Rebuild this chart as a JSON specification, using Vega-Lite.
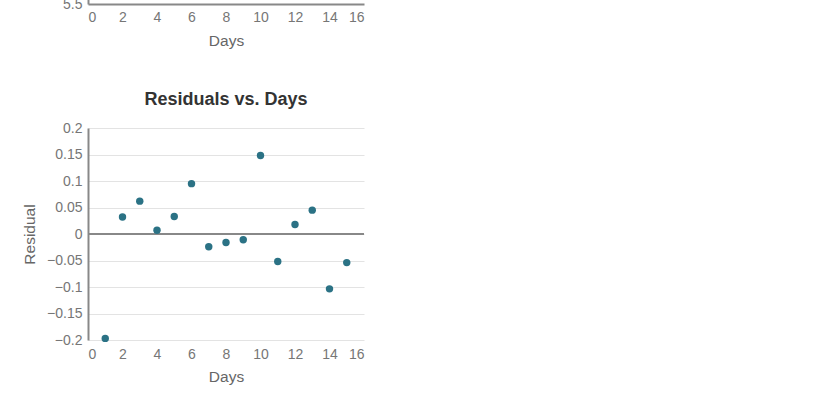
{
  "$schema": "https://vega.github.io/schema/vega-lite/v6.json",
  "padding": {"left": 22, "top": -146, "right": 5, "bottom": 5},
  "background": "white",
  "config": {
    "font": "Liberation Sans",
    "view": {"stroke": null},
    "axis": {
      "labelFont": "Liberation Sans",
      "titleFont": "Liberation Sans",
      "labelFontSize": 14,
      "labelColor": "#767676",
      "labelOverlap": false,
      "titleFontSize": 15.5,
      "titleFontWeight": "normal",
      "titleColor": "#666666",
      "ticks": false,
      "domainColor": "#888888",
      "domainWidth": 2,
      "gridColor": "#e3e3e3",
      "gridWidth": 1
    },
    "title": {"font": "Liberation Sans", "fontSize": 18, "fontWeight": "bold", "color": "#333333"}
  },
  "spacing": 42,
  "datasets": {
    "residuals": [
      {"Days": 1, "Residual": -0.197},
      {"Days": 2, "Residual": 0.032},
      {"Days": 3, "Residual": 0.062},
      {"Days": 4, "Residual": 0.007},
      {"Days": 5, "Residual": 0.033},
      {"Days": 6, "Residual": 0.095},
      {"Days": 7, "Residual": -0.024},
      {"Days": 8, "Residual": -0.016},
      {"Days": 9, "Residual": -0.011},
      {"Days": 10, "Residual": 0.148},
      {"Days": 11, "Residual": -0.052},
      {"Days": 12, "Residual": 0.018},
      {"Days": 13, "Residual": 0.045},
      {"Days": 14, "Residual": -0.1035},
      {"Days": 15, "Residual": -0.054}
    ]
  },
  "vconcat": [
    {
      "width": 276,
      "height": 150,
      "data": {"name": "residuals"},
      "mark": {"type": "point", "opacity": 0},
      "encoding": {
        "x": {
          "field": "Days", "type": "quantitative",
          "scale": {"domain": [0, 16], "nice": false},
          "axis": {"values": [0, 2, 4, 6, 8, 10, 12, 14, 16], "grid": false, "title": "Days", "labelPadding": 6, "titlePadding": 9}
        },
        "y": {
          "datum": 5.5, "type": "quantitative",
          "scale": {"domain": [5.5, 8], "nice": false},
          "axis": {"values": [5.5], "format": ".1f", "grid": false, "title": null, "labelPadding": 6}
        }
      }
    },
    {
      "width": 276,
      "height": 212,
      "title": {"text": "Residuals vs. Days", "offset": 12},
      "data": {"name": "residuals"},
      "encoding": {
        "y": {
          "field": "Residual", "type": "quantitative",
          "scale": {"domain": [-0.2, 0.2], "nice": false},
          "axis": {"values": [-0.2, -0.15, -0.1, -0.05, 0, 0.05, 0.1, 0.15, 0.2], "format": "~g", "grid": true, "title": "Residual", "labelPadding": 6, "titlePadding": 9}
        }
      },
      "layer": [
        {
          "mark": {"type": "rule", "color": "#888888", "strokeWidth": 2},
          "encoding": {"y": {"datum": 0, "type": "quantitative"}}
        },
        {
          "mark": {"type": "circle", "size": 55, "color": "#2b7285", "opacity": 1},
          "encoding": {
            "x": {
              "field": "Days", "type": "quantitative",
              "scale": {"domain": [0, 16], "nice": false},
              "axis": {"values": [0, 2, 4, 6, 8, 10, 12, 14, 16], "grid": false, "domain": false, "title": "Days", "labelPadding": 7, "titlePadding": 8}
            }
          }
        }
      ]
    }
  ]
}
